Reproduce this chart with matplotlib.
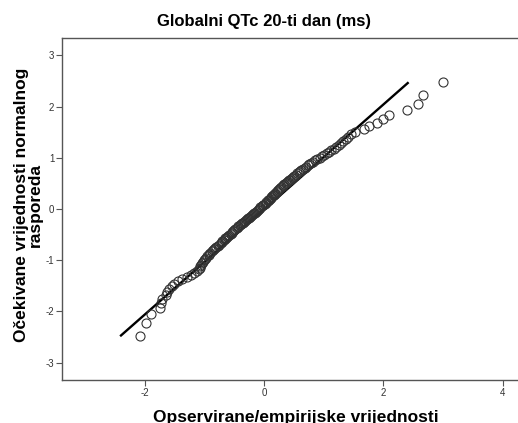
import matplotlib
matplotlib.use("Agg")
import matplotlib.pyplot as plt

plt.rcParams['font.family'] = ['Liberation Sans', 'DejaVu Sans']

# expected normal values (y) and observed standardized values (x), sorted
expected = [
    -2.48, -2.22, -2.06, -1.94, -1.84, -1.76, -1.68, -1.62, -1.56, -1.51,
    -1.46, -1.41, -1.37, -1.33, -1.29, -1.25, -1.22, -1.18, -1.15, -1.12,
    -1.09, -1.06, -1.03, -1.00, -0.98, -0.95, -0.92, -0.90, -0.88, -0.85,
    -0.83, -0.81, -0.78, -0.76, -0.74, -0.72, -0.70, -0.67, -0.65, -0.63,
    -0.61, -0.59, -0.57, -0.56, -0.54, -0.52, -0.50, -0.48, -0.46, -0.44,
    -0.43, -0.41, -0.39, -0.37, -0.35, -0.34, -0.32, -0.30, -0.28, -0.27,
    -0.25, -0.23, -0.22, -0.20, -0.18, -0.17, -0.15, -0.13, -0.12, -0.10,
    -0.08, -0.07, -0.05, -0.03, -0.02,
    0.00,
    0.02, 0.03, 0.05, 0.07, 0.08, 0.10, 0.12, 0.13, 0.15, 0.17,
    0.18, 0.20, 0.22, 0.23, 0.25, 0.27, 0.28, 0.30, 0.32, 0.34,
    0.35, 0.37, 0.39, 0.41, 0.43, 0.44, 0.46, 0.48, 0.50, 0.52,
    0.54, 0.56, 0.57, 0.59, 0.61, 0.63, 0.65, 0.67, 0.70, 0.72,
    0.74, 0.76, 0.78, 0.81, 0.83, 0.85, 0.88, 0.90, 0.92, 0.95,
    0.98, 1.00, 1.03, 1.06, 1.09, 1.12, 1.15, 1.18, 1.22, 1.25,
    1.29, 1.33, 1.37, 1.41, 1.46, 1.51, 1.56, 1.62, 1.68, 1.76,
    1.84, 1.94, 2.06, 2.22, 2.48,
]
observed = [
    -2.08, -1.98, -1.90, -1.75, -1.73, -1.71, -1.64, -1.63, -1.60, -1.55,
    -1.51, -1.44, -1.37, -1.29, -1.23, -1.17, -1.13, -1.10, -1.08, -1.07,
    -1.05, -1.04, -1.02, -1.01, -0.99, -0.97, -0.95, -0.93, -0.92, -0.90,
    -0.88, -0.86, -0.84, -0.82, -0.80, -0.78, -0.76, -0.73, -0.71, -0.70,
    -0.68, -0.66, -0.65, -0.64, -0.62, -0.60, -0.58, -0.56, -0.54, -0.53,
    -0.52, -0.50, -0.48, -0.46, -0.44, -0.43, -0.41, -0.39, -0.37, -0.36,
    -0.34, -0.32, -0.31, -0.29, -0.27, -0.26, -0.24, -0.22, -0.21, -0.19,
    -0.17, -0.16, -0.14, -0.12, -0.11,
    -0.09,
    -0.07, -0.06, -0.04, -0.02, -0.01, 0.01, 0.03, 0.04, 0.06, 0.07,
    0.08, 0.10, 0.11, 0.12, 0.14, 0.15, 0.17, 0.18, 0.19, 0.21,
    0.22, 0.24, 0.25, 0.27, 0.29, 0.31, 0.32, 0.34, 0.36, 0.38,
    0.40, 0.42, 0.43, 0.45, 0.47, 0.49, 0.51, 0.53, 0.56, 0.58,
    0.60, 0.62, 0.65, 0.68, 0.70, 0.73, 0.76, 0.79, 0.82, 0.86,
    0.89, 0.93, 0.97, 1.01, 1.05, 1.09, 1.13, 1.17, 1.21, 1.25,
    1.29, 1.33, 1.37, 1.41, 1.45, 1.53, 1.67, 1.76, 1.89, 2.00,
    2.10, 2.40, 2.59, 2.66, 3.01,
]

# reference line end points
line_x = [-2.40, 2.41]
line_y = [-2.47, 2.46]

xticks = [-2, 0, 2, 4]
yticks = [-3, -2, -1, 0, 1, 2, 3]

fig = plt.figure(figsize=(5.18, 4.23), dpi=100)
ax = fig.add_axes([62 / 518, 43 / 423, 456 / 518, 342 / 423])

ax.plot(line_x, line_y, color='black', lw=1.7, zorder=2)
ax.plot(observed, expected, linestyle='none', marker='o', ms=6.5,
        mfc='none', mec='#333333', mew=0.8, zorder=3)

ax.set_xlim(-3.39, 4.26)
ax.set_ylim(-3.34, 3.34)
ax.set_xticks(xticks)
ax.set_yticks(yticks)
ax.set_xticklabels([str(t) for t in xticks])
ax.set_yticklabels([str(t) for t in yticks])

for side in ['left', 'bottom', 'top']:
    ax.spines[side].set_color('#555555')
    ax.spines[side].set_linewidth(1.0)
ax.spines['right'].set_visible(False)
ax.tick_params(direction='out', length=4, width=0.8, color='#555555',
               labelsize=7, labelcolor='#333333', pad=1.5)

fig.text(264 / 518, 1 - 26 / 423, 'Globalni QTc 20-ti dan (ms)',
         ha='center', va='baseline', fontsize=12, fontweight='bold')
fig.text(296 / 518, 1.5 / 423, 'Opservirane/empirijske vrijednosti',
         ha='center', va='baseline', fontsize=12.5, fontweight='bold')
fig.text(28 / 518, 1 - 205 / 423,
         'Očekivane vrijednosti normalnog\nrasporeda',
         ha='center', va='center', rotation=90, multialignment='center',
         fontsize=12.5, fontweight='bold', linespacing=0.9)

fig.savefig('out.png', dpi=100)
